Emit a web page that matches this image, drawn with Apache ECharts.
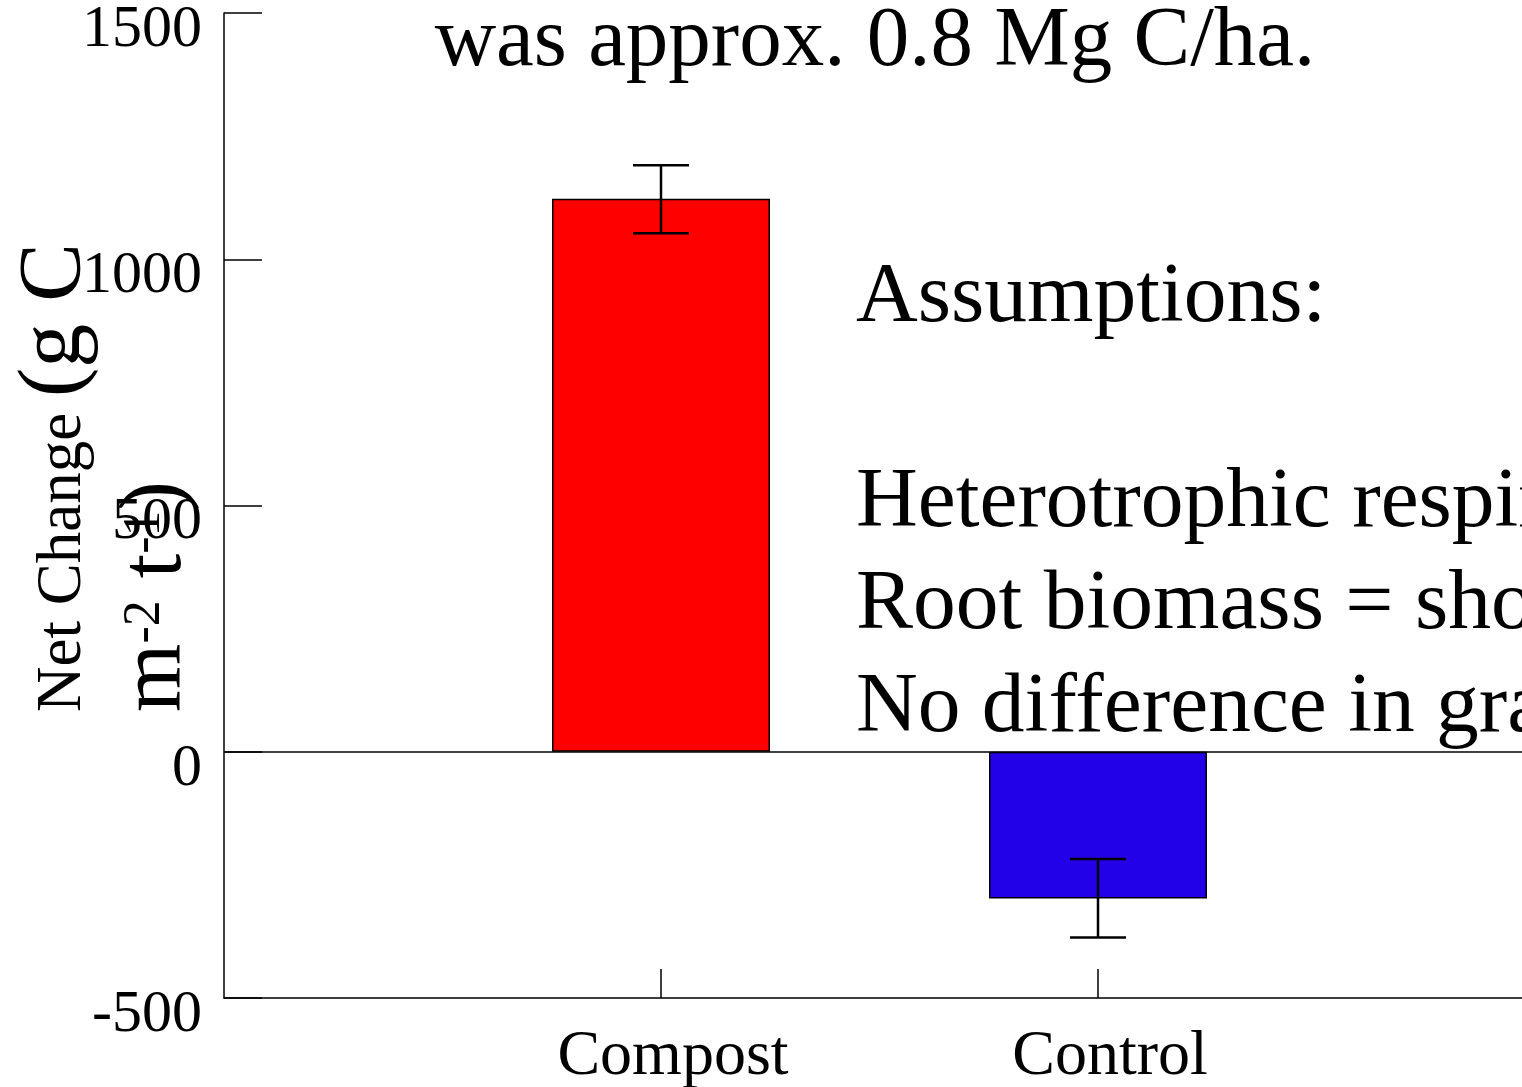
<!DOCTYPE html>
<html>
<head>
<meta charset="utf-8">
<script src="https://cdn.jsdelivr.net/npm/echarts@6/dist/echarts.min.js"></script>
<style>
  html, body { margin: 0; padding: 0; background: #fff; }
  #chart { width: 1522px; height: 1087px; }
</style>
</head>
<body>
<div id="chart"></div>
<script>
// data
const categories = ['', 'Compost', 'Control', ''];
const netChange = [null, 1123, -298, null];
const errLow = [null, 1053, -377, null];
const errHigh = [null, 1191, -218, null];
const barColors = [null, '#FF0000', '#2200E8', null];
const yTicks = { min: -500, max: 1500, interval: 500 };

const serif = '"Liberation Serif", "Times New Roman", serif';

const chart = echarts.init(document.getElementById('chart'));

const barData = netChange.map((v, i) => v == null ? null : ({
  value: v,
  itemStyle: { color: barColors[i] }
}));

const errData = netChange.map((v, i) => v == null ? null : [i, errLow[i], errHigh[i]]).filter(d => d);

// error bars
const renderErr = (params, api) => {
  const x = api.value(0);
  const lo = api.coord([x, api.value(1)]);
  const hi = api.coord([x, api.value(2)]);
  const half = 28;
  const style = { stroke: '#000', lineWidth: 2.5, fill: null };
  return {
    type: 'group',
    children: [
      { type: 'line', shape: { x1: lo[0], y1: lo[1], x2: hi[0], y2: hi[1] }, style },
      { type: 'line', shape: { x1: hi[0] - half, y1: hi[1], x2: hi[0] + half, y2: hi[1] }, style },
      { type: 'line', shape: { x1: lo[0] - half, y1: lo[1], x2: lo[0] + half, y2: lo[1] }, style }
    ]
  };
};

const option = {
  animation: false,
  backgroundColor: '#fff',
  grid: { left: 224, width: 1311, top: 13, bottom: 89, containLabel: false, outerBoundsMode: 'none' },
  xAxis: {
    type: 'category',
    data: categories,
    boundaryGap: false,
    axisLine: { onZero: false, lineStyle: { color: '#000', width: 1.5 } },
    axisTick: {
      inside: true,
      length: 29,
      interval: (i, name) => name !== '',
      lineStyle: { color: '#000', width: 1.5 }
    },
    axisLabel: {
      interval: 0,
      margin: 27,
      padding: [0, 0, 0, 24],
      fontFamily: serif,
      fontSize: 64,
      color: '#000'
    },
    splitLine: { show: false }
  },
  yAxis: {
    type: 'value',
    min: yTicks.min,
    max: yTicks.max,
    interval: yTicks.interval,
    axisLine: { show: true, lineStyle: { color: '#000', width: 1.5 } },
    axisTick: { show: true, inside: true, length: 38, lineStyle: { color: '#000', width: 1.5 } },
    axisLabel: {
      margin: 22,
      formatter: (v) => String(v),
      fontFamily: serif,
      fontSize: 60,
      color: '#000',
      verticalAlign: 'top',
      lineHeight: 34
    },
    splitLine: { show: false }
  },
  series: [
    {
      type: 'bar',
      data: barData,
      barWidth: 218,
      itemStyle: { borderColor: '#000', borderWidth: 1.5 },
      markLine: {
        silent: true,
        symbol: 'none',
        label: { show: false },
        lineStyle: { color: '#000', width: 1.5, type: 'solid' },
        data: [{ yAxis: 0 }]
      },
      z: 2
    },
    {
      type: 'custom',
      renderItem: renderErr,
      data: errData,
      z: 3
    }
  ],
  graphic: [
    {
      type: 'text',
      x: 875,
      y: 0,
      style: {
        text: 'was approx. 0.8 Mg C/ha.',
        fontFamily: serif,
        fontSize: 85,
        lineHeight: 85,
        fill: '#000',
        align: 'center',
        verticalAlign: 'top'
      }
    },
    {
      type: 'text',
      x: 856,
      y: 247,
      style: {
        text: 'Assumptions:\n\nHeterotrophic respiration\nRoot biomass = shoot biomass\nNo difference in grain',
        fontFamily: serif,
        fontSize: 85.5,
        lineHeight: 102.5,
        fill: '#000',
        align: 'left',
        verticalAlign: 'top'
      }
    },
    {
      type: 'group',
      x: 0,
      y: 712,
      rotation: Math.PI / 2,
      children: [
        {
          type: 'text',
          x: 0,
          y: 21,
          style: {
            text: '{a|Net Change }{b|(g C}',
            fill: '#000',
            align: 'left',
            verticalAlign: 'top',
            rich: {
              a: { fontFamily: serif, fontSize: 63, lineHeight: 60, height: 36, verticalAlign: 'bottom' },
              b: { fontFamily: serif, fontSize: 88, lineHeight: 60, height: 50, verticalAlign: 'bottom' }
            }
          }
        },
        {
          type: 'text',
          x: 0,
          y: 122,
          style: {
            text: '{b|m}{s|-2}{b| t}{s|-1}{b|)}',
            fill: '#000',
            align: 'left',
            verticalAlign: 'top',
            rich: {
              b: { fontFamily: serif, fontSize: 88, lineHeight: 60, height: 50, verticalAlign: 'bottom' },
              s: { fontFamily: serif, fontSize: 52, lineHeight: 60, height: 46, verticalAlign: 'top' }
            }
          }
        }
      ]
    }
  ]
};

chart.setOption(option);
window.addEventListener('resize', () => chart.resize());
</script>
</body>
</html>
